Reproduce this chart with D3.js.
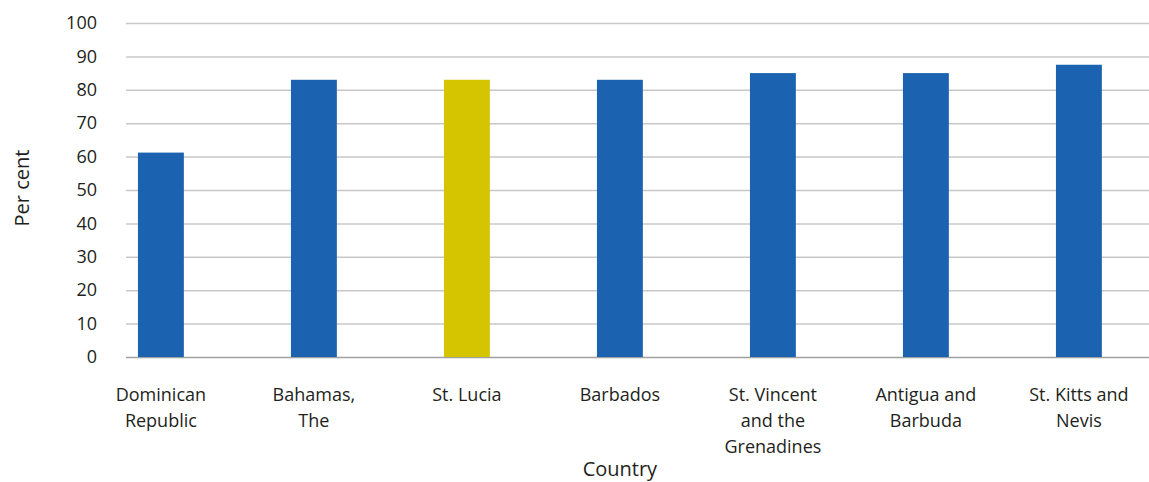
<!DOCTYPE html>
<html>
<head>
<meta charset="utf-8">
<script src="https://cdn.jsdelivr.net/npm/d3@7"></script>
<style>
  body { margin: 0; background: #fff; }
  text { font-family: "Open Sans", "Noto Sans", sans-serif; fill: #231f20; }
</style>
</head>
<body>
<div id="chart"></div>
<script>
// Dữ liệu
const countries = [
  ["Dominican", "Republic"],
  ["Bahamas,", "The"],
  ["St. Lucia"],
  ["Barbados"],
  ["St. Vincent", "and the", "Grenadines"],
  ["Antigua and", "Barbuda"],
  ["St. Kitts and", "Nevis"]
];
const values = [61.2, 83, 83, 83, 85, 85, 87.5];
const highlight = "St. Lucia";
const yTicks = [0, 10, 20, 30, 40, 50, 60, 70, 80, 90, 100];

const W = 1149, H = 482;
const gridLeft = 126, gridRight = 1149;
const y0 = 357, y100 = 23;

const svg = d3.select("#chart").append("svg")
  .attr("width", W)
  .attr("height", H);

const keys = countries.map(d => d.join(" "));

// Trục X
const x = d3.scaleBand()
  .domain(keys)
  .range([84.4, 1155.4])
  .paddingInner(0.7)
  .paddingOuter(0.35);

// Trục Y
const y = d3.scaleLinear()
  .domain([0, 100])
  .range([y0, y100]);

// Lưới ngang
svg.append("g")
  .attr("transform", `translate(${gridLeft},0)`)
  .call(d3.axisLeft(y).tickValues(yTicks).tickSize(-(gridRight - gridLeft)).tickFormat(""))
  .call(g => g.select(".domain").remove())
  .call(g => g.selectAll("line")
    .attr("stroke", d => d === 0 ? "#a0a0a0" : "#c8c8c8")
    .attr("stroke-width", 1.5));

// Nhãn trục Y
svg.append("g")
  .attr("transform", `translate(97,0)`)
  .call(d3.axisLeft(y).tickValues(yTicks).tickSize(0).tickPadding(0))
  .call(g => g.select(".domain").remove())
  .selectAll("text")
  .style("font-size", "18px")
  .attr("fill", "#231f20");

// Cột
svg.selectAll(".bar")
  .data(values)
  .enter()
  .append("rect")
  .attr("class", "bar")
  .attr("x", (d, i) => x(keys[i]))
  .attr("width", x.bandwidth())
  .attr("y", d => y(d))
  .attr("height", d => y(0) - y(d))
  .attr("fill", (d, i) => keys[i] === highlight ? "#d4c500" : "#1b62b0");

// Tên nước
const labels = svg.selectAll(".cat")
  .data(countries)
  .enter()
  .append("text")
  .attr("class", "cat")
  .attr("text-anchor", "middle")
  .attr("x", d => x(d.join(" ")) + x.bandwidth() / 2)
  .attr("y", 401)
  .style("font-size", "18px");

labels.selectAll("tspan")
  .data(d => d)
  .enter()
  .append("tspan")
  .attr("x", function() { return d3.select(this.parentNode).attr("x"); })
  .attr("dy", (d, i) => i === 0 ? 0 : 26)
  .text(d => d);

// Tiêu đề trục
svg.append("text")
  .attr("x", (84.4 + 1155.4) / 2)
  .attr("y", 476)
  .attr("text-anchor", "middle")
  .style("font-size", "20px")
  .text("Country");

svg.append("text")
  .attr("transform", "translate(29,188) rotate(-90)")
  .attr("text-anchor", "middle")
  .style("font-size", "20px")
  .text("Per cent");
</script>
</body>
</html>
